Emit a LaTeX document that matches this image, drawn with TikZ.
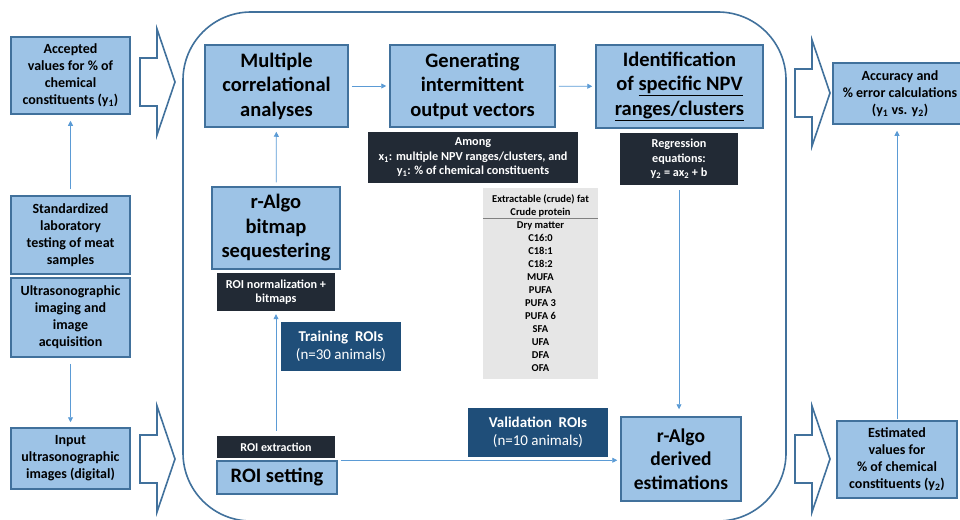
\documentclass[tikz,border=0pt]{standalone}
\usepackage{fontspec}
\setmainfont{Carlito}
\usetikzlibrary{arrows.meta}
\definecolor{boxfill}{HTML}{9DC3E6}
\definecolor{boxline}{HTML}{41719C}
\definecolor{darkfill}{HTML}{222A35}
\definecolor{navyfill}{HTML}{1F4E79}
\definecolor{flowline}{HTML}{5B9BD5}
\definecolor{listfill}{HTML}{E6E6E6}
\tikzset{cbox/.style={draw=boxline,fill=boxfill,line width=1.5pt,align=center,inner sep=0pt,font=\bfseries\fontsize{14}{17}\selectfont}}
\tikzset{bigbox/.style={cbox,font=\bfseries\fontsize{20.5}{24.5}\selectfont}}
\tikzset{dbox/.style={fill=darkfill,text=white,align=center,inner sep=0pt,font=\bfseries\fontsize{12.2}{14.5}\selectfont}}
\tikzset{nbox/.style={fill=navyfill,text=white,align=center,inner sep=0pt,font=\fontsize{15}{18.5}\selectfont}}
\tikzset{gbox/.style={fill=listfill,align=center,inner sep=0pt,font=\bfseries\fontsize{10.5}{13}\selectfont}}
\tikzset{farrow/.style={draw=flowline,line width=0.8pt,-{Triangle[length=5pt,width=5pt]}}}
\tikzset{barrow/.style={draw=boxline,line width=1.6pt,fill=white,line join=miter}}

\begin{document}
\begin{tikzpicture}[x=1pt,y=-1pt]
  \useasboundingbox (0,0) rectangle (960,519);
  % frame of the r-Algo stage
  \draw[boxline,line width=1.6pt,rounded corners=68pt] (183,12) rectangle (786,521);
  % block arrows in and out of the frame
  \foreach \x/\y in {140/82,140/459,795/93,795/459}{
    \draw[barrow] (\x,\y-24) -- (\x+17,\y-24) -- (\x+17,\y-53) -- (\x+35,\y)
      -- (\x+17,\y+53) -- (\x+17,\y+24) -- (\x,\y+24) -- cycle;
  }

  % left column
  \node[cbox,minimum width=119,minimum height=77] (accepted) at (70.5,75.5)
    {Accepted\\values for \% of\\chemical\\constituents (y\textsubscript{1})};
  \node[cbox,minimum width=119,minimum height=78] (labtest) at (70.5,235)
    {Standardized\\laboratory\\testing of meat\\samples};
  \node[cbox,minimum width=119,minimum height=79] (imaging) at (70.5,317.5)
    {Ultrasonographic\\imaging and\\image\\acquisition};
  \node[cbox,minimum width=119,minimum height=61] (input) at (70.5,458.5)
    {Input\\ultrasonographic\\images (digital)};
  \draw[farrow,shorten <=6pt,shorten >=6pt] (labtest) -- (accepted);
  \draw[farrow,shorten <=6pt,shorten >=5pt] (imaging) -- (input);

  % inside the frame
  \node[bigbox,minimum width=143,minimum height=82] (multiple) at (276.5,86)
    {Multiple\\correlational\\analyses};
  \node[bigbox,minimum width=165,minimum height=82] (vectors) at (472.5,86)
    {Generating\\intermittent\\output vectors};
  \node[bigbox,minimum width=167,minimum height=83] (ident) at (679.5,86.5)
    {Identification\\of \underline{specific NPV}\\\underline{ranges/clusters}};
  \node[dbox,minimum width=210,minimum height=51] (among) at (473,157.5)
    {Among\\x\textsubscript{1}: multiple NPV ranges/clusters, and\\y\textsubscript{1}: \% of chemical constituents};
  \node[dbox,minimum width=118,minimum height=52] (regress) at (679,159)
    {Regression\\equations:\\y\textsubscript{2} = ax\textsubscript{2} + b};
  \node[bigbox,minimum width=128,minimum height=82] (bitmap) at (276,228)
    {r-Algo\\bitmap\\sequestering};
  \node[dbox,minimum width=118,minimum height=38] (normal) at (276,292)
    {ROI normalization +\\bitmaps};
  \node[nbox,minimum width=120,minimum height=49] (training) at (341,346.5)
    {\textbf{Training\ \ ROIs}\\(n=30 animals)};
  \node[gbox,minimum width=115,minimum height=191] (traits) at (540.5,283.5)
    {Extractable (crude) fat\\Crude protein\\Dry matter\\C16:0\\C18:1\\C18:2\\MUFA\\PUFA\\PUFA 3\\PUFA 6\\SFA\\UFA\\DFA\\OFA};
  \draw[gray,line width=0.8pt] ([yshift=-31pt]traits.north west) -- ([yshift=-31pt]traits.north east);
  \node[dbox,minimum width=118,minimum height=22,font=\bfseries\fontsize{12}{13}\selectfont] (extract) at (276,447)
    {ROI extraction};
  \node[bigbox,minimum width=120,minimum height=33] (roiset) at (277,477.5)
    {ROI setting};
  \node[nbox,minimum width=140,minimum height=49] (validation) at (538,432.5)
    {\textbf{Validation\ \ ROIs}\\(n=10 animals)};
  \node[bigbox,minimum width=120,minimum height=84,font=\bfseries\fontsize{19.5}{23.3}\selectfont] (derived) at (681,459)
    {r-Algo\\derived\\estimations};

  \draw[farrow,shorten <=3pt,shorten >=3pt] (multiple) -- (vectors);
  \draw[farrow,shorten <=3pt,shorten >=3pt] (vectors) -- (ident);
  \draw[farrow,shorten <=4pt,shorten >=4pt] (bitmap) -- (multiple);
  \draw[farrow,shorten <=5pt,shorten >=3pt] (extract) -- (normal);
  \draw[farrow,shorten <=3pt,shorten >=3pt] (roiset.north east) -- (derived.west |- roiset.north east);
  \draw[farrow,shorten <=5pt,shorten >=7pt] (regress.south) -- (regress.south |- derived.north);

  % right column
  \node[cbox,minimum width=134,minimum height=61] (accuracy) at (900,93.5)
    {Accuracy and\\\% error calculations\\(y\textsubscript{1} vs. y\textsubscript{2})};
  \node[cbox,minimum width=120,minimum height=77] (estimated) at (897,459.5)
    {Estimated\\values for\\\% of chemical\\constituents (y\textsubscript{2})};
  \draw[farrow,shorten <=1pt,shorten >=6pt] (estimated.north) -- (estimated.north |- accuracy.south);
\end{tikzpicture}
\end{document}
